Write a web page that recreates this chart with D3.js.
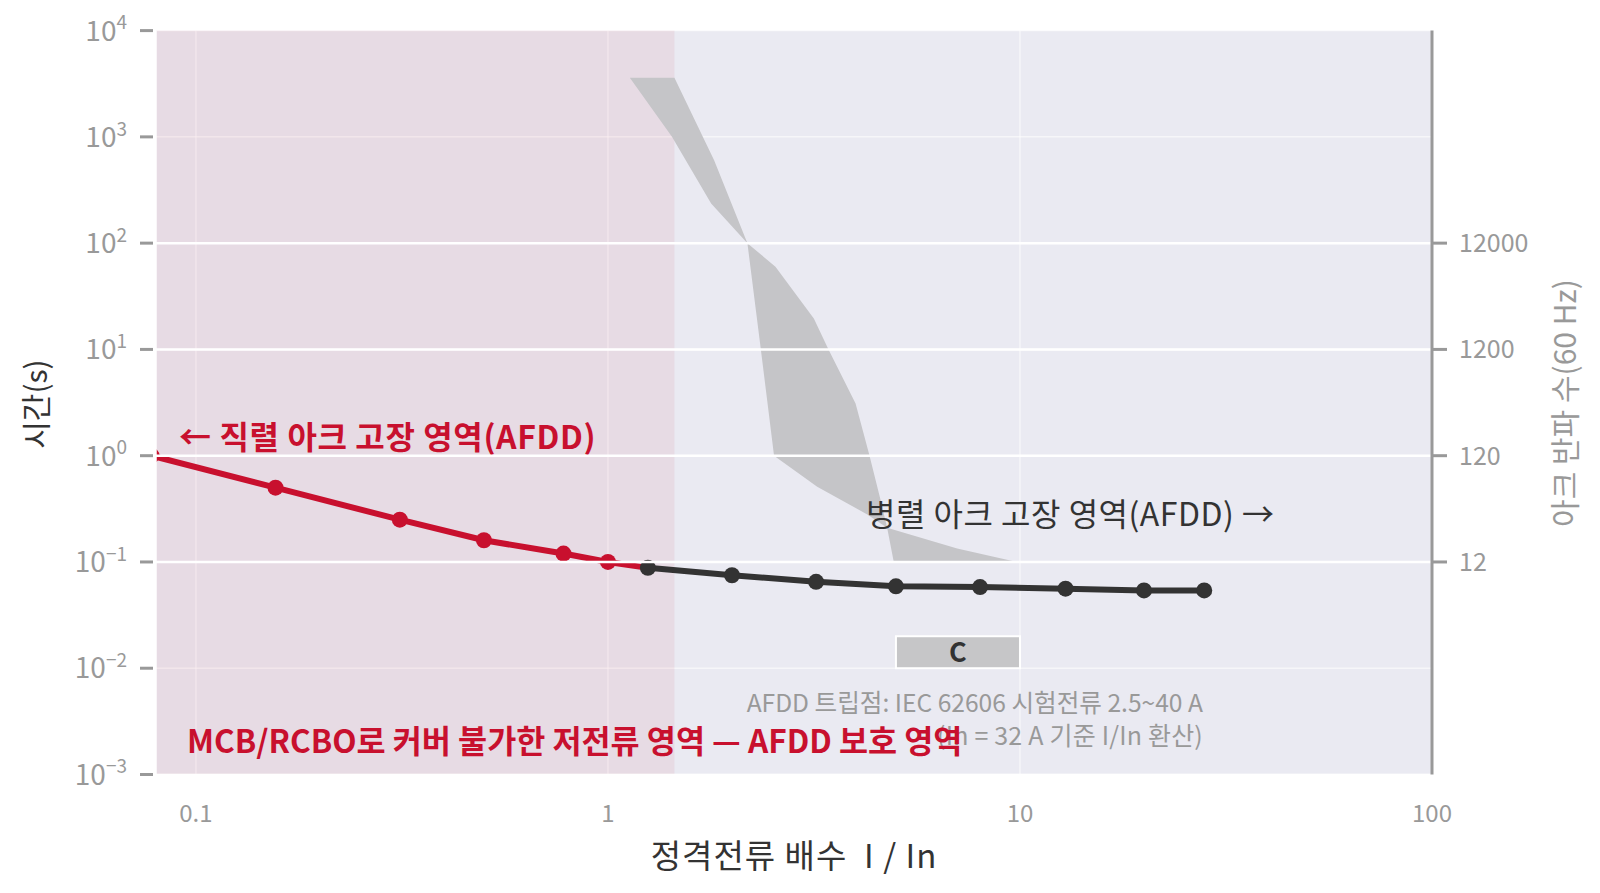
<!DOCTYPE html>
<html><head><meta charset="utf-8">
<script src="https://cdn.jsdelivr.net/npm/d3@7"></script>
<style>
body{margin:0;background:#fff;}
svg{display:block;font-family:"Noto Sans CJK KR","Noto Sans",sans-serif;}
</style></head><body>
<svg id="chart" width="1600" height="893"></svg>
<script>
// ---- data ----
const afddCurrent = [0.078, 0.156, 0.3125, 0.5, 0.78, 1.0, 1.25];
const afddTime    = [1.0, 0.5, 0.25, 0.16, 0.12, 0.1, 0.088];
const highCurrent = [1.25, 2, 3.2, 5, 8, 12.9, 20, 28];
const highTime    = [0.088, 0.075, 0.065, 0.059, 0.058, 0.056, 0.054, 0.054];
const bandACurrent = [1.13, 1.43, 1.78, 2.18, 2.35, 2.53, 3.22, 4.26, 4.76, 7.04, 9.83];
const bandATime    = [3600, 1000, 236, 100, 10, 1.0, 0.51, 0.28, 0.21, 0.134, 0.1];
const bandBCurrent = [1.45, 1.81, 2.18, 2.55, 3.16, 3.43, 3.99, 4.30, 4.59, 4.76, 4.94];
const bandBTime    = [3600, 602, 100, 60, 19.5, 10, 3.1, 1.05, 0.38, 0.21, 0.1];
const lowZoneCurrent = [0.08, 1.45];
const cBoxCurrent = [5, 10];
const cBoxTime = [0.01, 0.02];
const xDomain = [0.08, 100];
const yDomain = [1e-3, 1e4];
const cycleDomain = [0.12, 1.2e6];
const xTicks = [0.1, 1, 10, 100];
const xTickLabels = ["0.1", "1", "10", "100"];
const yTicks = [1e-3, 1e-2, 1e-1, 1e0, 1e1, 1e2, 1e3, 1e4];
const yTickExp = ["−3", "−2", "−1", "0", "1", "2", "3", "4"];
const cycleTicks = [12, 120, 1200, 12000];
const cycleTickLabels = ["12", "120", "1200", "12000"];

// ---- layout ----
const L = 156, R = 1432, T = 30.6, B = 774.5;
const svg = d3.select("#chart");
const x = d3.scaleLog().domain(xDomain).range([L, R]);
const y = d3.scaleLog().domain(yDomain).range([B, T]);
const y2 = d3.scaleLog().domain(cycleDomain).range([B, T]);

const RED = "#c8102e", DARK = "#333333", GRAY = "#999999";

svg.append("rect").attr("x", L).attr("y", T).attr("width", R - L).attr("height", B - T).attr("fill", "#eaeaf2");

// faint primary grid
const g0 = svg.append("g").attr("stroke", "#ffffff").attr("stroke-opacity", 0.55).attr("stroke-width", 1.5);
g0.selectAll("line.h").data(yTicks).join("line").attr("x1", L).attr("x2", R).attr("y1", d => y(d)).attr("y2", d => y(d));
g0.selectAll("line.v").data(xTicks).join("line").attr("y1", T).attr("y2", B).attr("x1", d => x(d)).attr("x2", d => x(d));

// low-current zone
svg.append("rect")
  .attr("x", x(lowZoneCurrent[0])).attr("y", T)
  .attr("width", x(lowZoneCurrent[1]) - x(lowZoneCurrent[0])).attr("height", B - T)
  .attr("fill", RED).attr("fill-opacity", 0.065);

svg.append("defs").append("clipPath").attr("id", "pc")
  .append("rect").attr("x", L).attr("y", T).attr("width", R - L).attr("height", B - T);
const plot = svg.append("g").attr("clip-path", "url(#pc)");

// band polygon
const bandPts = bandACurrent.map((c, i) => [x(c), y(bandATime[i])])
  .concat(bandBCurrent.map((c, i) => [x(c), y(bandBTime[i])]).reverse());
plot.append("path").attr("d", d3.line()(bandPts) + "Z").attr("fill", "#c5c5c8");

// C box
plot.append("rect")
  .attr("x", x(cBoxCurrent[0])).attr("y", y(cBoxTime[1]))
  .attr("width", x(cBoxCurrent[1]) - x(cBoxCurrent[0])).attr("height", y(cBoxTime[0]) - y(cBoxTime[1]))
  .attr("fill", "#c6c6c8").attr("stroke", "#ffffff").attr("stroke-width", 2);
svg.append("text").attr("x", (x(cBoxCurrent[0]) + x(cBoxCurrent[1])) / 2)
  .attr("y", (y(cBoxTime[0]) + y(cBoxTime[1])) / 2).attr("dy", "0.36em")
  .attr("text-anchor", "middle").attr("font-size", 27).attr("font-weight", "bold").attr("fill", DARK).text("C");

// series
const line = d3.line().x(d => x(d[0])).y(d => y(d[1]));
const redData = afddCurrent.map((c, i) => [c, afddTime[i]]);
const darkData = highCurrent.map((c, i) => [c, highTime[i]]);
plot.append("path").attr("d", line(redData)).attr("fill", "none").attr("stroke", RED).attr("stroke-width", 6).attr("stroke-linejoin", "round");
plot.selectAll("circle.r").data(redData.slice(0, -1)).join("circle").attr("cx", d => x(d[0])).attr("cy", d => y(d[1])).attr("r", 8).attr("fill", RED);
plot.append("path").attr("d", line(darkData)).attr("fill", "none").attr("stroke", DARK).attr("stroke-width", 6).attr("stroke-linejoin", "round");
plot.selectAll("circle.k").data(darkData).join("circle").attr("cx", d => x(d[0])).attr("cy", d => y(d[1])).attr("r", 8).attr("fill", DARK);

// annotations
svg.append("text").attr("x", 1203).attr("y", 712).attr("text-anchor", "end").attr("font-size", 24.6).attr("fill", GRAY)
  .text("AFDD 트립점: IEC 62606 시험전류 2.5~40 A");
svg.append("text").attr("x", 1203).attr("y", 745).attr("text-anchor", "end").attr("font-size", 25).attr("letter-spacing", 0.2).attr("fill", GRAY)
  .text("(In = 32 A 기준 I/In 환산)");
svg.append("text").attr("x", 179).attr("y", 449).attr("font-size", 32).attr("letter-spacing", 0.6).attr("font-weight", "bold").attr("fill", RED)
  .text("← 직렬 아크 고장 영역(AFDD)");
svg.append("text").attr("x", 187).attr("y", 753).attr("font-size", 31.6).attr("font-weight", "bold").attr("fill", RED)
  .text("MCB/RCBO로 커버 불가한 저전류 영역 — AFDD 보호 영역");
svg.append("text").attr("x", 866).attr("y", 526).attr("font-size", 32).attr("letter-spacing", 0.5).attr("fill", DARK)
  .text("병렬 아크 고장 영역(AFDD) →");

// secondary grid on top
const g2 = svg.append("g").attr("stroke", "#ffffff").attr("stroke-width", 2.5);
g2.selectAll("line").data(cycleTicks).join("line").attr("x1", L).attr("x2", R).attr("y1", d => y2(d)).attr("y2", d => y2(d));

// spines
svg.append("line").attr("x1", L).attr("x2", L).attr("y1", T).attr("y2", B).attr("stroke", "#fff").attr("stroke-width", 1.5);
svg.append("line").attr("x1", L).attr("x2", R).attr("y1", B).attr("y2", B).attr("stroke", "#fff").attr("stroke-width", 1.5);
svg.append("line").attr("x1", R).attr("x2", R).attr("y1", T).attr("y2", B).attr("stroke", GRAY).attr("stroke-width", 3);

// left ticks
const gl = svg.append("g");
gl.selectAll("line").data(yTicks).join("line").attr("x1", 140).attr("x2", 153).attr("y1", d => y(d)).attr("y2", d => y(d)).attr("stroke", GRAY).attr("stroke-width", 3);
const lt = gl.selectAll("text").data(yTicks).join("text").attr("x", 127).attr("y", d => y(d)).attr("dy", "0.36em")
  .attr("text-anchor", "end").attr("fill", GRAY).attr("font-size", 28);
lt.append("tspan").text("10");
lt.append("tspan").attr("dy", "-0.6em").attr("font-size", 19).text((d, i) => yTickExp[i]);

// right ticks
const gr = svg.append("g");
gr.selectAll("line").data(cycleTicks).join("line").attr("x1", R).attr("x2", R + 15).attr("y1", d => y2(d)).attr("y2", d => y2(d)).attr("stroke", GRAY).attr("stroke-width", 3);
gr.selectAll("text").data(cycleTicks).join("text").attr("x", 1459).attr("y", d => y2(d)).attr("dy", "0.36em")
  .attr("fill", GRAY).attr("font-size", 25).text((d, i) => cycleTickLabels[i]);

// bottom tick labels
svg.append("g").selectAll("text").data(xTicks).join("text").attr("x", d => x(d)).attr("y", 822)
  .attr("text-anchor", "middle").attr("fill", GRAY).attr("font-size", 24).text((d, i) => xTickLabels[i]);

// axis titles
svg.append("text").attr("x", 794).attr("y", 868).attr("text-anchor", "middle").attr("font-size", 33).attr("letter-spacing", 1).attr("fill", DARK)
  .style("white-space", "pre").text("정격전류 배수  I / In");
svg.append("text").attr("transform", "translate(47,404) rotate(-90)").attr("text-anchor", "middle").attr("font-size", 30).attr("fill", DARK)
  .text("시간(s)");
svg.append("text").attr("transform", "translate(1576,403) rotate(-90)").attr("text-anchor", "middle").attr("font-size", 30).attr("fill", GRAY)
  .text("아크 반파 수(60 Hz)");
</script>
</body></html>
